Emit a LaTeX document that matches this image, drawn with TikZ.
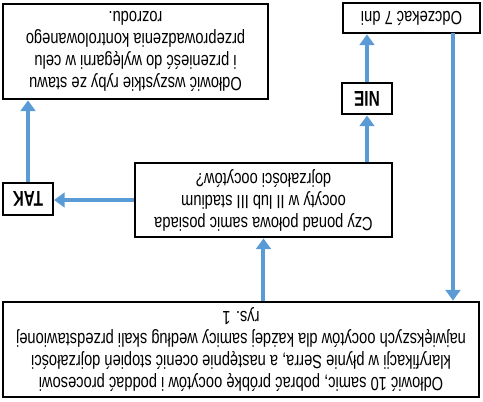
\documentclass[tikz,border=0pt]{standalone}
\usepackage{fontspec}
\setmainfont{Liberation Sans}
\usetikzlibrary{arrows.meta}
\definecolor{flowblue}{RGB}{91,155,213}
\begin{document}
\begin{tikzpicture}[x=0.75pt, y=0.75pt, rotate=180, transform shape,
  box/.style={draw, line width=1.6pt, align=center, inner sep=2pt, yscale=1.3, font=\fontsize{11}{12.7}\selectfont},
  answer/.style={draw, line width=1.6pt, inner sep=2pt, yscale=1.4, font=\fontsize{11.5}{13}\selectfont\bfseries},
  flow/.style={draw=flowblue, line width=3pt, -{Triangle[length=8pt,width=11pt]}}]
\useasboundingbox (0,0) rectangle (483,401);
\node[box, minimum width=357pt, minimum height=54.8pt] (start) at (242,349.5){Odłowić 10 samic, pobrać próbkę oocytów i poddać procesowi\\klaryfikacji w płynie Serra, a następnie ocenić stopień dojrzałości\\największych oocytów dla każdej samicy według skali przedstawionej\\rys. 1};
\node[box, minimum width=192.75pt, minimum height=42.7pt] (question) at (219.5,200){Czy ponad połowa samic posiada\\oocyty w II lub III stadium\\dojrzałości oocytów?};
\node[answer, minimum width=37.5pt, minimum height=17.1pt] (tak) at (455,199){TAK};
\node[box, minimum width=198.75pt, minimum height=54.8pt] (catch) at (347.5,51.5){Odłowić wszystkie ryby ze stawu\\i przenieść do wylęgarni w celu\\przeprowadzenia kontrolowanego\\rozrodu.};
\node[answer, minimum width=37.5pt, minimum height=16.6pt] (nie) at (116,98.5){NIE};
\node[box, minimum width=102.75pt, minimum height=17.3pt] (wait) at (71.5,18){Odczekać 7 dni};
\coordinate (back) at (30,33);
\draw[flow] (question.north |- start.south) -- (question.north);
\draw[flow] (question.east) -- (question.east -| tak.west);
\draw[flow] (tak.south) -- (tak.south |- catch.north);
\draw[flow] (question.south -| nie) -- (nie.north);
\draw[flow] (nie.south) -- (nie.south |- wait.north);
\draw[flow] (back) -- (back |- start.south);
\end{tikzpicture}
\end{document}
